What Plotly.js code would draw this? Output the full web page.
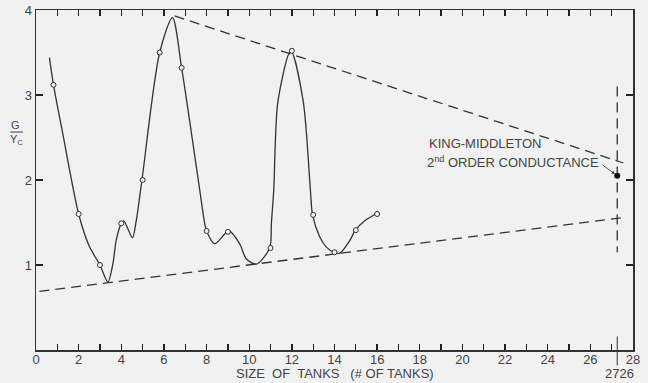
<!DOCTYPE html>
<html>
<head>
<meta charset="utf-8">
<script src="https://cdn.plot.ly/plotly-3.0.1.min.js"></script>
<style>html,body{margin:0;padding:0;background:#f1f1f1;}#chart{width:648px;height:383px;}</style>
</head>
<body>
<div id="chart"></div>
<script>
// Smooth curve traced through the measurements
const curveX = [0.63, 0.82, 1.26, 2.0, 2.5, 3.0, 3.37, 3.61, 3.76, 4.0, 4.12, 4.52, 4.7, 4.97, 5.8, 6.4, 6.83, 7.68, 7.91, 8.0, 8.38, 9.05, 9.55, 9.87, 10.34, 10.96, 11.04, 11.15, 11.35, 11.95, 12.53, 12.87, 12.97, 13.31, 13.62, 13.97, 14.25, 14.72, 14.98, 15.42, 15.94];
const curveY = [3.44, 3.12, 2.54, 1.6, 1.22, 1.0, 0.80, 1.02, 1.29, 1.49, 1.52, 1.32, 1.52, 2.0, 3.5, 3.91, 3.32, 1.88, 1.49, 1.4, 1.25, 1.40, 1.25, 1.07, 1.01, 1.2, 1.49, 1.88, 2.93, 3.52, 2.93, 1.88, 1.59, 1.33, 1.21, 1.15, 1.14, 1.29, 1.41, 1.52, 1.6];
// Measured points (open circles)
const pointX = [0.82, 2, 3, 4, 5, 5.8, 6.83, 8, 9, 11, 12, 13, 14, 15, 16];
const pointY = [3.12, 1.6, 1.0, 1.49, 2.0, 3.5, 3.32, 1.4, 1.39, 1.2, 3.52, 1.59, 1.15, 1.41, 1.6];
// Dashed envelope lines
const upperX = [6.5, 27.55];
const upperY = [3.93, 2.2];
const lowerX = [0.16, 27.5];
const lowerY = [0.69, 1.557];
const vertX = [27.26, 27.26];
const vertY = [3.1, 1.15];
// King-Middleton value
const kmX = [27.26];
const kmY = [2.05];
// Ticks: every integer, labels on even ones
const xTickVals = [0,1,2,3,4,5,6,7,8,9,10,11,12,13,14,15,16,17,18,19,20,21,22,23,24,25,26,27,28];
const xTickText = ['0','','2','','4','','6','','8','','10','','12','','14','','16','','18','','20','','22','','24','','26','','28'];
const yTickVals = [1,2,3,4];
const yTickText = ['1','2','3','4'];

const ink = '#333';
const bg = '#f1f1f1';
const fontFam = 'Liberation Sans, Arial, sans-serif';

const traces = [
  {x: upperX, y: upperY, mode: 'lines', line: {color: ink, width: 1.3, dash: '10px,6px'}, hoverinfo: 'skip'},
  {x: lowerX, y: lowerY, mode: 'lines', line: {color: ink, width: 1.3, dash: '10px,6px'}, hoverinfo: 'skip'},
  {x: vertX, y: vertY, mode: 'lines', line: {color: ink, width: 1.3, dash: '10px,6px'}, hoverinfo: 'skip'},
  {x: curveX, y: curveY, mode: 'lines', line: {color: ink, width: 1.3, shape: 'spline', smoothing: 0.8}, hoverinfo: 'skip'},
  {x: pointX, y: pointY, mode: 'markers', marker: {symbol: 'circle', size: 5, color: bg, line: {color: ink, width: 1}}, cliponaxis: false},
  {x: kmX, y: kmY, mode: 'markers', marker: {symbol: 'circle', size: 6, color: '#111'}}
];

const layout = {
  width: 648, height: 383,
  margin: {l: 36, r: 15, t: 10, b: 33},
  paper_bgcolor: bg, plot_bgcolor: bg,
  showlegend: false,
  font: {family: fontFam, color: '#444', size: 13},
  xaxis: {
    range: [0, 28], tickmode: 'array', tickvals: xTickVals, ticktext: xTickText,
    ticks: 'inside', ticklen: 6, tickwidth: 1.3, tickcolor: '#222', ticklabelstandoff: -3,
    showline: true, linecolor: ink, linewidth: 1.5, mirror: 'ticks',
    showgrid: false, zeroline: false, fixedrange: true,
    tickfont: {size: 13, color: '#444'}
  },
  yaxis: {
    range: [0, 4], tickmode: 'array', tickvals: yTickVals, ticktext: yTickText,
    ticks: 'inside', ticklen: 7, tickwidth: 1.3, tickcolor: '#222',
    showline: true, linecolor: ink, linewidth: 1.5, mirror: 'ticks',
    showgrid: false, zeroline: false, fixedrange: true,
    tickfont: {size: 13, color: '#444'}
  },
  shapes: [
    {type: 'line', xref: 'x', yref: 'paper', x0: 27.26, x1: 27.26, y0: -0.045, y1: 0.04, line: {color: ink, width: 1}},
    {type: 'line', xref: 'paper', yref: 'paper', x0: -0.043, x1: -0.022, y0: 0.641, y1: 0.641, line: {color: '#444', width: 1}}
  ],
  annotations: [
    {x: 18.35, y: 2.43, xref: 'x', yref: 'y', text: 'KING-MIDDLETON', showarrow: false, xanchor: 'left', font: {size: 13}},
    {x: 18.25, y: 2.21, xref: 'x', yref: 'y', text: '2<sup>nd</sup> ORDER CONDUCTANCE', showarrow: false, xanchor: 'left', font: {size: 13}},
    {x: 27.15, y: 2.07, xref: 'x', yref: 'y', ax: 26.5, ay: 2.19, axref: 'x', ayref: 'y', text: '', showarrow: true, arrowhead: 2, arrowsize: 0.8, arrowwidth: 0.8, arrowcolor: ink},
    {x: 27.35, y: 0, xref: 'x', yref: 'paper', yshift: -33, text: '2726', showarrow: false, xanchor: 'center', yanchor: 'bottom', font: {size: 13}},
    {x: 0.5, y: 0, xref: 'paper', yref: 'paper', yshift: -33, text: 'SIZE  OF  TANKS   (# OF TANKS)', showarrow: false, xanchor: 'center', yanchor: 'bottom', font: {size: 13}},
    {x: -0.035, y: 0.641, xref: 'paper', yref: 'paper', yshift: 7, text: 'G', showarrow: false, xanchor: 'center', font: {size: 11}},
    {x: -0.032, y: 0.641, xref: 'paper', yref: 'paper', yshift: -8, text: 'Y<sub>C</sub>', showarrow: false, xanchor: 'center', font: {size: 11}}
  ]
};

Plotly.newPlot('chart', traces, layout, {displayModeBar: false, staticPlot: true});
</script>
</body>
</html>
